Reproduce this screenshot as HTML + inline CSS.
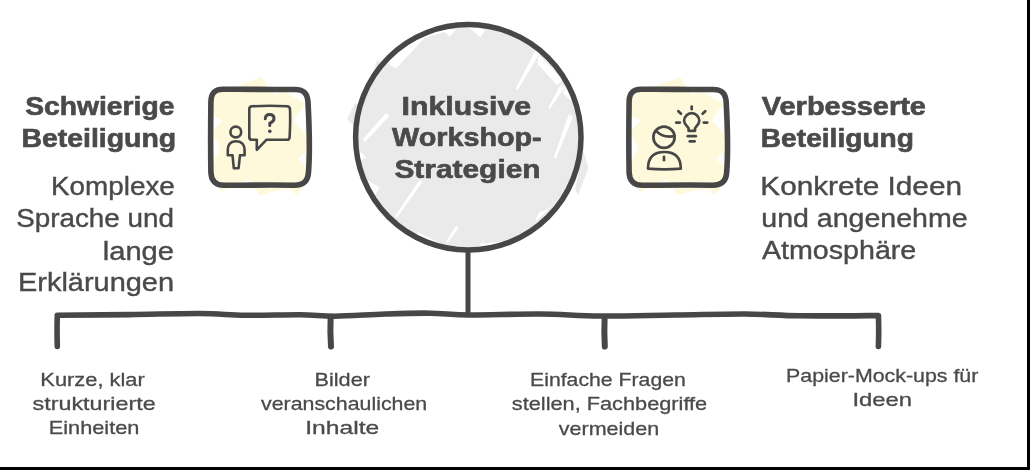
<!DOCTYPE html>
<html><head><meta charset="utf-8"><style>
html,body{margin:0;padding:0;background:#fff;}
body{width:1030px;height:470px;overflow:hidden;position:relative;}
svg{position:absolute;left:0;top:0;will-change:transform;}
text{font-family:"Liberation Sans",sans-serif;fill:#4a4a4a;}
</style></head><body>
<svg width="1030" height="470" viewBox="0 0 1030 470">
<rect x="0" y="0" width="1030" height="470" fill="#fff"/>
<!-- border right/bottom -->
<rect x="1027" y="0" width="3" height="470" fill="#000"/>
<rect x="0" y="467" width="1030" height="3" fill="#000"/>

<!-- circle fill -->
<g fill="#eaeaea">
  <circle cx="468.3" cy="137.3" r="111" />
  <path d="M377 60 L372 75 L390 66 Z"/>
  <path d="M347 119 L355 103 L362 108 L358 130 Z"/>
  <path d="M583 150 L588.5 168 L578 195 L575 190 Z"/>
</g>
<g fill="#ffffff">
  <path d="M383 61 L396 68.5 L424.5 38 L444 32 L450 36.5 L456 29.5 L430 28 L400 42 Z"/>
  <path d="M468 27 L480.4 37.1 L485.6 30.4 L470 25 Z"/>
  <path d="M535 51 L540 53 L518 89.5 L515.5 89 Z"/>
  <path d="M539 55 L537.5 64 L557 85 L563 80 Z"/>
  <path d="M561 84 L565 87 L550 108.5 L548 108 Z"/>
  <path d="M565 87 L563 93 L576 106 L574 96 Z"/>
  <path d="M569 114 L573 117 L556 158.5 L553.5 158 Z"/>
  <path d="M386 113 L389.5 116 L365 142 L363 139 Z"/>
  <path d="M356 148 L366 157.5 L358 162 Z"/>
  <path d="M364 178 L379.6 187.4 L374.7 195.6 L368 192 Z"/>
  <path d="M419.5 180 L422.5 182 L397 217.5 L395 216 Z"/>
  <path d="M456 226 L458.5 228 L448 242.5 L446 242 Z"/>
  <path d="M418 232 L424.2 235.2 L440 243 L430 246 L415 240 Z"/>
  <path d="M538.7 212.5 L545.4 210.3 L553 205 L535 222 Z"/>
  <path d="M490.7 232.6 L480.6 243.8 L503 241.5 L505 246 L478 248 Z"/>
</g>
<circle cx="468.3" cy="137.3" r="112.7" fill="none" stroke="#474747" stroke-width="5.5"/>
<!-- connector -->
<line x1="468" y1="250" x2="468" y2="315" stroke="#474747" stroke-width="5"/>
<path d="M57.3 346.5 Q56.8 330 57.3 315.2 C69.4 315.1 106.2 314.9 130.0 314.6 C153.8 314.3 180.8 313.4 200.0 313.5 C219.2 313.6 228.3 315.1 245.0 315.3 C261.7 315.5 285.0 314.7 300.0 314.8 C315.0 314.9 320.8 316.3 335.0 316.2 C349.2 316.1 369.2 314.5 385.0 314.0 C400.8 313.5 415.8 313.0 430.0 313.2 C444.2 313.4 451.7 314.9 470.0 315.0 C488.3 315.1 518.3 313.8 540.0 314.0 C561.7 314.2 577.5 315.8 600.0 316.0 C622.5 316.2 650.8 315.3 675.0 315.0 C699.2 314.7 724.2 313.9 745.0 314.0 C765.8 314.1 777.8 315.6 800.0 315.8 C822.2 316.1 865.3 315.6 878.4 315.5 Q879 330 878.4 346.5" fill="none" stroke="#474747" stroke-width="5.6" stroke-linecap="round" stroke-linejoin="round"/>
<path d="M330.6 318.5 Q330 332 331 346.5" fill="none" stroke="#474747" stroke-width="6" stroke-linecap="round"/>
<path d="M604.6 318.5 Q604 332 604.8 346.5" fill="none" stroke="#474747" stroke-width="6" stroke-linecap="round"/>

<!-- left icon box -->
<g>
<g fill="#fff9dc">
  <path d="M206.4 97.1 L261.9 76.9 L268.5 88 L300 89 L306 96 L310 120 L309 178 L302.3 188.4 L296 194.7 L291 189.6 L277 190.3 L259.4 195.3 L255.6 188.4 L228.5 188.4 L222.1 192.1 L220.3 189.6 L211 182 L210 110 Z"/>
</g>
<g fill="#ffffff">
  <path d="M213 116 L222.2 120.3 L213 131 Z"/>
  <path d="M213 135.4 L220.2 147.5 L213 161.7 Z"/>
  <path d="M305 104 L294 120.3 L305 134 Z"/>
  <path d="M305 152 L298.2 159.6 L305 166 Z"/>
  <path d="M284 91.5 L306 91.5 L306 104 Z"/>
  <path d="M271.5 91.8 L274.5 95.3 L279.6 92.5 Z"/>
  <path d="M241 182.5 L248 179.5 L251.5 182.5 Z"/>
</g>
<path d="M223 89.3 C240 88.8 270 89.8 295 89.5 C304 89.4 307.5 94 308 102 C309.5 130 309.8 155 308.5 172 C308 181 303.5 185.3 294 185.2 C270 184.8 245 185.2 224 185.3 C215 185.3 211 180 210.9 172 C210.5 150 210.6 125 210.9 102 C211 93 215 89.5 223 89.3 Z" fill="none" stroke="#474747" stroke-width="5.6" stroke-linejoin="round"/>
</g>
<g fill="none" stroke="#474747" stroke-width="2.6" stroke-linecap="round" stroke-linejoin="round">
  <circle cx="235.8" cy="132" r="5.4"/>
  <path d="M249.3 109 Q249.3 106.5 252 106.3 Q270 105.3 287 106.3 Q289.8 106.5 290 109.2 Q290.5 123 289.6 137.4 Q289.4 139.8 287 139.8 L266.3 139.8 L256.8 149.8 L256.8 139.8 L251.8 139.8 Q249.4 139.8 249.3 137.4 Z"/>
  <path d="M265.3 118.8 Q265.5 114.6 269.5 114.6 Q274 114.6 274 118.6 Q274 121.6 269.8 123.2 L269.8 125.6" stroke-width="3"/>
  <path d="M236 141.2 C230 141.2 227.8 145.5 227.8 150 L227.8 155.2 L232.5 155.2 L233.8 168.2 L238.6 168.2 L240 155.2 L244.6 155.2 L244.6 150 C244.6 145.5 242 141.2 236 141.2 Z"/>
</g>
<circle cx="269.8" cy="131.2" r="1.8" fill="#474747"/>

<!-- right icon box -->
<g transform="translate(418.2 0)">
<g fill="#fff9dc">
  <path d="M206.4 97.1 L261.9 76.9 L268.5 88 L300 89 L306 96 L310 120 L309 178 L302.3 188.4 L296 194.7 L291 189.6 L277 190.3 L259.4 195.3 L255.6 188.4 L228.5 188.4 L222.1 192.1 L220.3 189.6 L211 182 L210 110 Z"/>
</g>
<g fill="#ffffff">
  <path d="M213 116 L222.2 120.3 L213 131 Z"/>
  <path d="M213 135.4 L220.2 147.5 L213 161.7 Z"/>
  <path d="M305 104 L294 120.3 L305 134 Z"/>
  <path d="M305 152 L298.2 159.6 L305 166 Z"/>
  <path d="M284 91.5 L306 91.5 L306 104 Z"/>
  <path d="M271.5 91.8 L274.5 95.3 L279.6 92.5 Z"/>
  <path d="M241 182.5 L248 179.5 L251.5 182.5 Z"/>
</g>
<path d="M223 89.3 C240 88.8 270 89.8 295 89.5 C304 89.4 307.5 94 308 102 C309.5 130 309.8 155 308.5 172 C308 181 303.5 185.3 294 185.2 C270 184.8 245 185.2 224 185.3 C215 185.3 211 180 210.9 172 C210.5 150 210.6 125 210.9 102 C211 93 215 89.5 223 89.3 Z" fill="none" stroke="#474747" stroke-width="5.6" stroke-linejoin="round"/>
</g>
<g fill="none" stroke="#474747" stroke-width="2.7" stroke-linecap="round" stroke-linejoin="round">
  <circle cx="664" cy="137.2" r="10.6"/>
  <path d="M656.3 131 Q662 138 674.5 136.2"/>
  <path d="M648 168.6 Q648 152 664.3 152 Q680.8 152 680.8 168.6 Q664.3 170 648 168.6 Z"/>
  <line x1="664" y1="156.8" x2="664" y2="160.2"/>
  <path d="M688.6 130.8 L688.6 128.5 C688.6 127 684.1 125 684.1 120.8 A7.6 7.6 0 1 1 699.3 120.8 C699.3 125 695 127 695 128.5 L695 130.8 Z"/>
  <line x1="687.8" y1="136.2" x2="695.8" y2="136.2"/>
  <line x1="689.8" y1="141.3" x2="694.6" y2="141.3"/>
  <line x1="691.7" y1="106.6" x2="691.7" y2="109.2"/>
  <line x1="676.2" y1="122.6" x2="679.8" y2="122.6"/>
  <line x1="703.8" y1="122.6" x2="707.2" y2="122.6"/>
  <line x1="678.3" y1="111.2" x2="681" y2="113.8"/>
  <line x1="702.6" y1="113.8" x2="705.3" y2="111.2"/>
</g>

<g>
<text x="25.20" y="115.20" font-size="26.5" font-weight="bold" stroke="#4a4a4a" stroke-width="0.65" textLength="149.21" lengthAdjust="spacingAndGlyphs">Schwierige</text>
<text x="21.40" y="147.40" font-size="26.5" font-weight="bold" stroke="#4a4a4a" stroke-width="0.65" textLength="154.78" lengthAdjust="spacingAndGlyphs">Beteiligung</text>
<text x="51.00" y="195.20" font-size="26.5" font-weight="normal" stroke="#4a4a4a" stroke-width="0.4" textLength="123.79" lengthAdjust="spacingAndGlyphs">Komplexe</text>
<text x="16.20" y="226.80" font-size="26.5" font-weight="normal" stroke="#4a4a4a" stroke-width="0.4" textLength="157.78" lengthAdjust="spacingAndGlyphs">Sprache und</text>
<text x="102.80" y="259.80" font-size="26.5" font-weight="normal" stroke="#4a4a4a" stroke-width="0.4" textLength="71.19" lengthAdjust="spacingAndGlyphs">lange</text>
<text x="18.00" y="291.40" font-size="26.5" font-weight="normal" stroke="#4a4a4a" stroke-width="0.4" textLength="155.99" lengthAdjust="spacingAndGlyphs">Erklärungen</text>
<text x="401.60" y="114.80" font-size="26.5" font-weight="bold" stroke="#4a4a4a" stroke-width="0.65" textLength="129.62" lengthAdjust="spacingAndGlyphs">Inklusive</text>
<text x="392.00" y="146.40" font-size="26.5" font-weight="bold" stroke="#4a4a4a" stroke-width="0.65" textLength="149.70" lengthAdjust="spacingAndGlyphs">Workshop-</text>
<text x="394.40" y="178.00" font-size="26.5" font-weight="bold" stroke="#4a4a4a" stroke-width="0.65" textLength="146.19" lengthAdjust="spacingAndGlyphs">Strategien</text>
<text x="761.80" y="115.00" font-size="26.5" font-weight="bold" stroke="#4a4a4a" stroke-width="0.65" textLength="164.18" lengthAdjust="spacingAndGlyphs">Verbesserte</text>
<text x="760.80" y="146.50" font-size="26.5" font-weight="bold" stroke="#4a4a4a" stroke-width="0.65" textLength="153.18" lengthAdjust="spacingAndGlyphs">Beteiligung</text>
<text x="760.30" y="195.10" font-size="26.5" font-weight="normal" stroke="#4a4a4a" stroke-width="0.4" textLength="201.69" lengthAdjust="spacingAndGlyphs">Konkrete Ideen</text>
<text x="761.30" y="227.10" font-size="26.5" font-weight="normal" stroke="#4a4a4a" stroke-width="0.4" textLength="206.31" lengthAdjust="spacingAndGlyphs">und angenehme</text>
<text x="762.00" y="258.80" font-size="26.5" font-weight="normal" stroke="#4a4a4a" stroke-width="0.4" textLength="154.28" lengthAdjust="spacingAndGlyphs">Atmosphäre</text>
<text x="40.30" y="386.20" font-size="19" font-weight="normal" stroke="#4a4a4a" stroke-width="0.3" textLength="104.51" lengthAdjust="spacingAndGlyphs">Kurze, klar</text>
<text x="32.60" y="409.70" font-size="19" font-weight="normal" stroke="#4a4a4a" stroke-width="0.3" textLength="123.11" lengthAdjust="spacingAndGlyphs">strukturierte</text>
<text x="48.80" y="434.10" font-size="19" font-weight="normal" stroke="#4a4a4a" stroke-width="0.3" textLength="90.58" lengthAdjust="spacingAndGlyphs">Einheiten</text>
<text x="314.50" y="385.50" font-size="19" font-weight="normal" stroke="#4a4a4a" stroke-width="0.3" textLength="55.48" lengthAdjust="spacingAndGlyphs">Bilder</text>
<text x="261.00" y="410.20" font-size="19" font-weight="normal" stroke="#4a4a4a" stroke-width="0.3" textLength="166.22" lengthAdjust="spacingAndGlyphs">veranschaulichen</text>
<text x="305.20" y="433.80" font-size="19" font-weight="normal" stroke="#4a4a4a" stroke-width="0.3" textLength="74.00" lengthAdjust="spacingAndGlyphs">Inhalte</text>
<text x="530.00" y="385.60" font-size="19" font-weight="normal" stroke="#4a4a4a" stroke-width="0.3" textLength="155.82" lengthAdjust="spacingAndGlyphs">Einfache Fragen</text>
<text x="511.80" y="410.20" font-size="19" font-weight="normal" stroke="#4a4a4a" stroke-width="0.3" textLength="195.40" lengthAdjust="spacingAndGlyphs">stellen, Fachbegriffe</text>
<text x="558.80" y="434.80" font-size="19" font-weight="normal" stroke="#4a4a4a" stroke-width="0.3" textLength="100.31" lengthAdjust="spacingAndGlyphs">vermeiden</text>
<text x="786.10" y="381.70" font-size="19" font-weight="normal" stroke="#4a4a4a" stroke-width="0.3" textLength="192.21" lengthAdjust="spacingAndGlyphs">Papier-Mock-ups für</text>
<text x="852.40" y="406.30" font-size="19" font-weight="normal" stroke="#4a4a4a" stroke-width="0.3" textLength="59.60" lengthAdjust="spacingAndGlyphs">Ideen</text>
</g>
</svg>
</body></html>
